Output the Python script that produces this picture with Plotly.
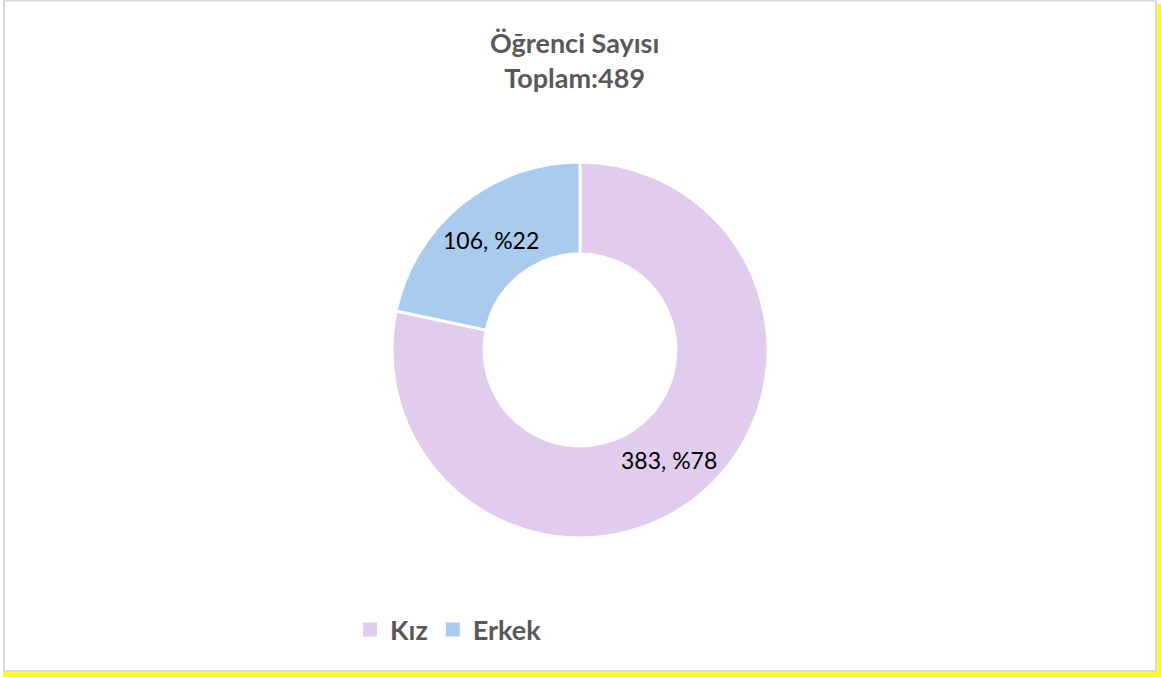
import math
import plotly.graph_objects as go

labels = ["Kız", "Erkek"]
values = [383, 106]
colors = ["#E1CCEE", "#A9CBEE"]
title_line1 = "Öğrenci Sayısı"

W, H = 1161, 677
total = sum(values)
pct_text = [f"{v}, %{round(v / total * 100)}" for v in values]

def px(x):
    return x / W

def py(y):
    return 1 - y / H

# donut geometry (pixel space), used for domain and label placement
CX, CY, R = 580, 350, 188
HOLE = 0.51
dom_x = [px(CX - R), px(CX + R)]
dom_y = [py(CY + R), py(CY - R)]

fig = go.Figure(go.Pie(
    labels=labels,
    values=values,
    textinfo="none",
    marker=dict(colors=colors, line=dict(color="#FFFFFF", width=3)),
    hole=HOLE,
    sort=False,
    direction="clockwise",
    rotation=0,
    domain=dict(x=dom_x, y=dom_y),
    hoverinfo="skip",
    showlegend=False,
))

# legend entries with larger square swatches
for lab, col in zip(labels, colors):
    fig.add_trace(go.Scatter(
        x=[None], y=[None], mode="markers", name=lab,
        marker=dict(symbol="square", size=14, color=col),
        hoverinfo="skip",
    ))

# data labels at the middle of each ring segment (computed from the values)
annotations = []
r_mid = R * (1 + HOLE) / 2
cum = 0
for v, t in zip(values, pct_text):
    mid = (cum + v / 2) / total * 2 * math.pi
    cum += v
    x = CX + r_mid * math.sin(mid)
    y = CY - r_mid * math.cos(mid)
    annotations.append(dict(
        x=px(x), y=py(y), xref="paper", yref="paper",
        text=t, showarrow=False, xanchor="center", yanchor="middle",
        font=dict(family="Lato", size=23, color="#000000"),
    ))

fig.update_layout(
    width=W, height=H,
    margin=dict(l=0, r=0, t=0, b=0),
    paper_bgcolor="#FFFFFF",
    plot_bgcolor="rgba(0,0,0,0)",
    font=dict(family="Lato", color="#595959"),
    xaxis=dict(visible=False),
    yaxis=dict(visible=False),
    title=dict(
        text=f"<b>{title_line1}<br>Toplam:{total}</b>",
        x=0.495, xanchor="center",
        y=py(53), yanchor="middle",
        font=dict(family="Lato", size=27, color="#595959"),
    ),
    showlegend=True,
    legend=dict(
        orientation="h",
        x=px(350), xanchor="left",
        y=py(630), yanchor="middle",
        font=dict(family="Lato", size=27, color="#595959", weight="bold"),
        itemclick=False,
        itemdoubleclick=False,
    ),
    annotations=annotations,
    shapes=[
        dict(type="rect", xref="paper", yref="paper",
             x0=px(4), x1=px(1156), y0=py(671), y1=py(0.5),
             line=dict(color="#D9D9D9", width=2), fillcolor="rgba(0,0,0,0)"),
        dict(type="rect", xref="paper", yref="paper",
             x0=px(1157.2), x1=px(1161), y0=py(677), y1=py(4),
             line=dict(width=0), fillcolor="#FAFA1E"),
        dict(type="rect", xref="paper", yref="paper",
             x0=px(3), x1=px(1161), y0=py(677), y1=py(672.2),
             line=dict(width=0), fillcolor="#FAFA1E"),
    ],
)

fig.write_html(
    "out.html",
    config={"displayModeBar": False},
    post_script="document.body.style.margin='0';document.body.style.overflow='hidden';",
)
